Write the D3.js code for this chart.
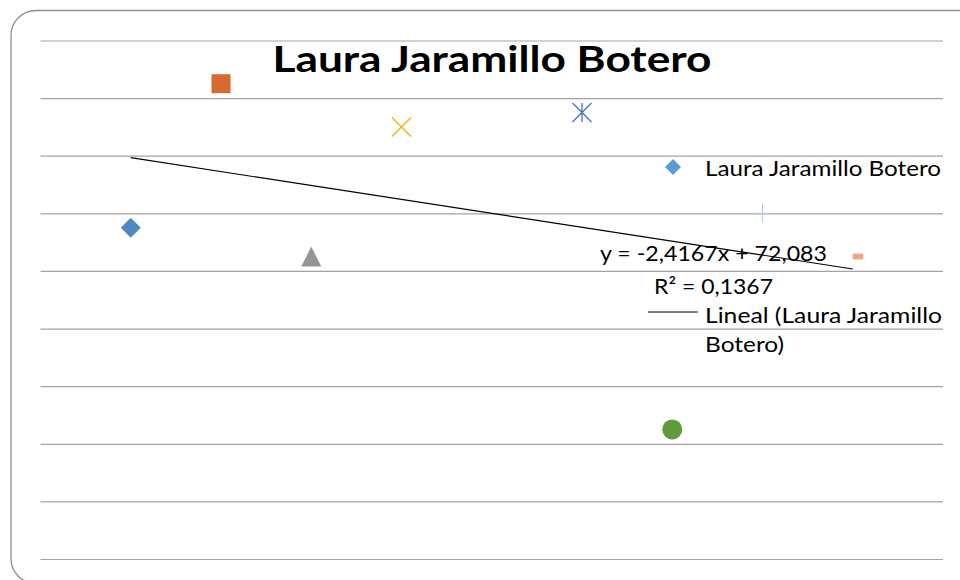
<!DOCTYPE html>
<html>
<head>
<meta charset="utf-8">
<script src="https://cdn.jsdelivr.net/npm/d3@7"></script>
<style>
  body { margin: 0; background: #fff; }
  text { font-family: Lato, "Open Sans", sans-serif; }
</style>
</head>
<body>
<script>
// datos (un punto por nota)
var titulo = "Laura Jaramillo Botero";
var serie = "Laura Jaramillo Botero";
var valoresX = [1, 2, 3, 4, 6, 7, 8, 9];
var valoresY = [57.5, 82.5, 52.5, 75, 77.5, 22.5, 60, 52.5];
var ticksY = [0, 10, 20, 30, 40, 50, 60, 70, 80, 90];

// estilo de cada marcador (como en excel, cada punto con su color)
var formas = ["diamante", "cuadro", "triangulo", "equis", "asterisco", "circulo", "mas", "guion"];
var colores = ["#4f89c2", "#d56b2c", "#959595", "#eeb300", "#4472c4", "#609b3d", "#a9c9e9", "#efa583"];

var w = 960;
var h = 580;

var svg = d3.select("body")
            .append("svg")
            .attr("width", w)
            .attr("height", h);

// borde redondeado del area del grafico
svg.append("rect")
    .attr("x", 11)
    .attr("y", 10.5)
    .attr("width", 980)
    .attr("height", 573)
    .attr("rx", 25)
    .attr("fill", "none")
    .attr("stroke", "#8f8f8f")
    .attr("stroke-width", 1.3);

var xScale = d3.scaleLinear()
            .domain([0, 10])
            .range([40.5, 943]);

var yScale = d3.scaleLinear()
            .domain([0, 90])
            .range([559, 40.5]);

// lineas de cuadricula horizontales
var yAxis = d3.axisLeft()
    .scale(yScale)
    .tickValues(ticksY)
    .tickSize(-(943 - 40.5))
    .tickFormat("");

var ejeY = svg.append("g")
    .attr("transform", "translate(40.5,0)")
    .call(yAxis);
ejeY.select(".domain").remove();
ejeY.selectAll(".tick line")
    .attr("stroke", "#a3a3a3")
    .attr("stroke-width", 1.2);

// linea de tendencia (minimos cuadrados)
var n = valoresX.length;
var mx = d3.mean(valoresX);
var my = d3.mean(valoresY);
var sxy = d3.sum(valoresX, function(d, i) { return (d - mx) * (valoresY[i] - my); });
var sxx = d3.sum(valoresX, function(d) { return (d - mx) * (d - mx); });
var syy = d3.sum(valoresY, function(d) { return (d - my) * (d - my); });
var pendiente = sxy / sxx;
var corte = my - pendiente * mx;
var r2 = (sxy * sxy) / (sxx * syy);

var x0 = d3.min(valoresX), x1 = d3.max(valoresX);
svg.append("line")
    .attr("x1", xScale(x0))
    .attr("y1", yScale(corte + pendiente * x0))
    .attr("x2", xScale(x1))
    .attr("y2", yScale(corte + pendiente * x1))
    .attr("stroke", "#000")
    .attr("stroke-width", 1.1);

// marcadores
function forma(tipo) {
    if (tipo == "diamante") return "M0,-10L10,0L0,10L-10,0Z";
    if (tipo == "cuadro") return "M-9.5,-9.5h19v19h-19Z";
    if (tipo == "triangulo") return "M0,-10L10,10L-10,10Z";
    if (tipo == "equis") return "M-9.5,-9.5L9.5,9.5M-9.5,9.5L9.5,-9.5";
    if (tipo == "asterisco") return "M-9.5,-9.5L9.5,9.5M-9.5,9.5L9.5,-9.5M0,-9.5V9.5";
    if (tipo == "circulo") return d3.symbol().type(d3.symbolCircle).size(Math.PI * 100)();
    if (tipo == "mas") return "M-9,0H9M0,-9V9";
    return "M0,-2.9h10.5v5.8h-10.5Z";
}
var lineales = ["equis", "asterisco", "mas"];

svg.selectAll("path.punto")
    .data(valoresY)
    .enter()
    .append("path")
    .attr("class", "punto")
    .attr("transform", function(d, i) {
        return "translate(" + xScale(valoresX[i]) + "," + yScale(d) + ")";
    })
    .attr("d", function(d, i) { return forma(formas[i]); })
    .attr("fill", function(d, i) {
        return lineales.indexOf(formas[i]) >= 0 ? "none" : colores[i];
    })
    .attr("stroke", function(d, i) {
        return lineales.indexOf(formas[i]) >= 0 ? colores[i] : "none";
    })
    .attr("stroke-width", function(d, i) {
        return formas[i] == "mas" ? 1 : 1.3;
    });

// titulo
svg.append("text")
    .attr("x", 492)
    .attr("y", 72)
    .attr("text-anchor", "middle")
    .attr("font-size", "36px")
    .attr("font-weight", "bold")
    .attr("textLength", 439)
    .attr("lengthAdjust", "spacingAndGlyphs")
    .attr("fill", "#000")
    .text(titulo);

// etiqueta de la ecuacion
function coma(v, p) {
    return (+v.toPrecision(p)).toString().replace(".", ",");
}
var ecuacion = "y = " + coma(pendiente, 5) + "x + " + coma(corte, 5);
var etiquetaR2 = "R² = " + coma(r2, 4);

svg.append("text")
    .attr("x", 713.5)
    .attr("y", 261)
    .attr("text-anchor", "middle")
    .attr("font-size", "22px")
    .attr("textLength", 227)
    .attr("lengthAdjust", "spacingAndGlyphs")
    .text(ecuacion);

svg.append("text")
    .attr("x", 713.5)
    .attr("y", 294)
    .attr("text-anchor", "middle")
    .attr("font-size", "22px")
    .attr("textLength", 119)
    .attr("lengthAdjust", "spacingAndGlyphs")
    .text(etiquetaR2);

// leyenda
svg.append("path")
    .attr("transform", "translate(673,167)")
    .attr("d", "M0,-8L8,0L0,8L-8,0Z")
    .attr("fill", "#5b9bd5");

svg.append("text")
    .attr("x", 705)
    .attr("y", 176)
    .attr("font-size", "22px")
    .attr("textLength", 236)
    .attr("lengthAdjust", "spacingAndGlyphs")
    .text(serie);

svg.append("line")
    .attr("x1", 648)
    .attr("x2", 698)
    .attr("y1", 312)
    .attr("y2", 312)
    .attr("stroke", "#000")
    .attr("stroke-width", 1);

svg.append("text")
    .attr("x", 705)
    .attr("y", 323)
    .attr("font-size", "22px")
    .attr("textLength", 237)
    .attr("lengthAdjust", "spacingAndGlyphs")
    .text("Lineal (" + serie.split(" ").slice(0, 2).join(" "));

svg.append("text")
    .attr("x", 705)
    .attr("y", 352)
    .attr("font-size", "22px")
    .attr("textLength", 79)
    .attr("lengthAdjust", "spacingAndGlyphs")
    .text(serie.split(" ")[2] + ")");
</script>
</body>
</html>
